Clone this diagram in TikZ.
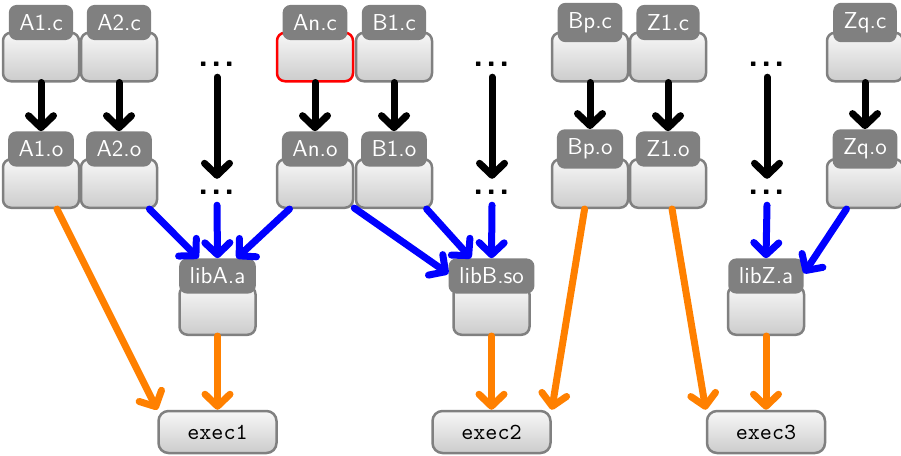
\documentclass[tikz,border=0pt]{standalone}
\usepackage{fontspec}
\usetikzlibrary{arrows.meta}

\definecolor{boxgray}{gray}{0.5}
\definecolor{taggray}{gray}{0.5}

% text is set at 10pt and enlarged, keeping the 10pt design of the fonts
\newcommand\TagText[1]{\scalebox{2.3}{\sffamily\fontsize{10}{12}\selectfont #1}}
\newcommand\ExecText[1]{\scalebox{2.3}{\ttfamily\fontsize{10}{12}\selectfont #1}}
\newcommand\DotsFont{\sffamily\bfseries\fontsize{34}{36}\selectfont}
\newcommand\elide{.\kern2.5pt.\kern2.5pt.}

\tikzset{
  filebox/.style={draw=boxgray, line width=2.5pt, rounded corners=8pt,
    top color=white!97!black, bottom color=white!80!black,
    minimum width=76pt, minimum height=48.5pt, inner sep=0pt},
  filetag/.style={fill=taggray, text=white, rounded corners=8pt,
    inner xsep=10.5pt, inner ysep=9.5pt},
  dotsnode/.style={minimum height=26pt, inner sep=0pt, font=\DotsFont},
  execbox/.style={filebox, minimum width=118pt, minimum height=42pt,
    rounded corners=10pt},
  arr/.style={line width=7pt, line cap=round,
    -{Straight Barb[length=12pt,width=25pt,round]}},
  compilearrow/.style={arr, black},
  linkarrow/.style={arr, blue},
  execarrow/.style={arr, orange},
}

% a file: shaded body with a grey name tag on its top edge
\newcommand\filenode[5][]{%
  \node[filebox,#1] (#2) at (#3,#4) {};
  \node[filetag] (#2t) at (#3,#4-34.5) {\TagText{#5}};
}

\begin{document}
\begin{tikzpicture}[x=1pt,y=-1pt]
\useasboundingbox (0,0) rectangle (901,455);

% sources
\filenode{a1c}{41}{57}{A1.c}
\filenode{a2c}{119}{57}{A2.c}
\filenode[draw=red]{anc}{315}{57}{An.c}
\filenode{b1c}{394}{57}{B1.c}
\filenode{bpc}{590}{57}{Bp.c}
\filenode{z1c}{668}{57}{Z1.c}
\filenode{zqc}{865}{57}{Zq.c}

% objects
\filenode{a1o}{41}{183.5}{A1.o}
\filenode{a2o}{119}{183.5}{A2.o}
\filenode{ano}{315}{183.5}{An.o}
\filenode{b1o}{394}{183.5}{B1.o}
\filenode{bpo}{590}{183.5}{Bp.o}
\filenode{z1o}{668}{183.5}{Z1.o}
\filenode{zqo}{865}{183.5}{Zq.o}

% elided files
\node[dotsnode] (d1a) at (217,64) {\elide};
\node[dotsnode] (d1b) at (217,192) {\elide};
\node[dotsnode] (d2a) at (492,64) {\elide};
\node[dotsnode] (d2b) at (492,192) {\elide};
\node[dotsnode] (d3a) at (767,64) {\elide};
\node[dotsnode] (d3b) at (767,192) {\elide};

% libraries
\filenode{liba}{217.5}{310.5}{libA.a}
\filenode{libb}{491.5}{310.5}{libB.so}
\filenode{libz}{766}{310.5}{libZ.a}

% executables
\node[execbox] (exec1) at (217.5,432) {\ExecText{exec1}};
\node[execbox] (exec2) at (491.5,432) {\ExecText{exec2}};
\node[execbox] (exec3) at (766,432) {\ExecText{exec3}};

% compiling
\foreach \f in {a1,a2,an,b1,bp,z1,zq}
  \draw[compilearrow] (\f c.south) -- (\f ot.north);
\foreach \d in {d1,d2,d3}
  \draw[compilearrow] (\d a.south) -- (\d b.north);

% archiving / linking libraries
\draw[linkarrow] (a2o.-40) -- (libat.137);
\draw[linkarrow] (d1b.south) -- (libat.north);
\draw[linkarrow] (ano.-135) -- (libat.43);
\draw[linkarrow] (ano.-32) -- (libbt.177);
\draw[linkarrow] (b1o.-38) -- (libbt.139);
\draw[linkarrow] (d2b.south) -- (libbt.north);
\draw[linkarrow] (d3b.south) -- (libzt.north);
\draw[linkarrow] (zqo.234) -- (libzt.4);

% linking executables
\draw[execarrow] (a1o.-58) -- (exec1.north west);
\draw[execarrow] (liba.south) -- (exec1.north);
\draw[execarrow] (bpo.258) -- (exec2.north east);
\draw[execarrow] (libb.south) -- (exec2.north);
\draw[execarrow] (z1o.-81) -- (exec3.north west);
\draw[execarrow] (libz.south) -- (exec3.north);
\end{tikzpicture}
\end{document}
